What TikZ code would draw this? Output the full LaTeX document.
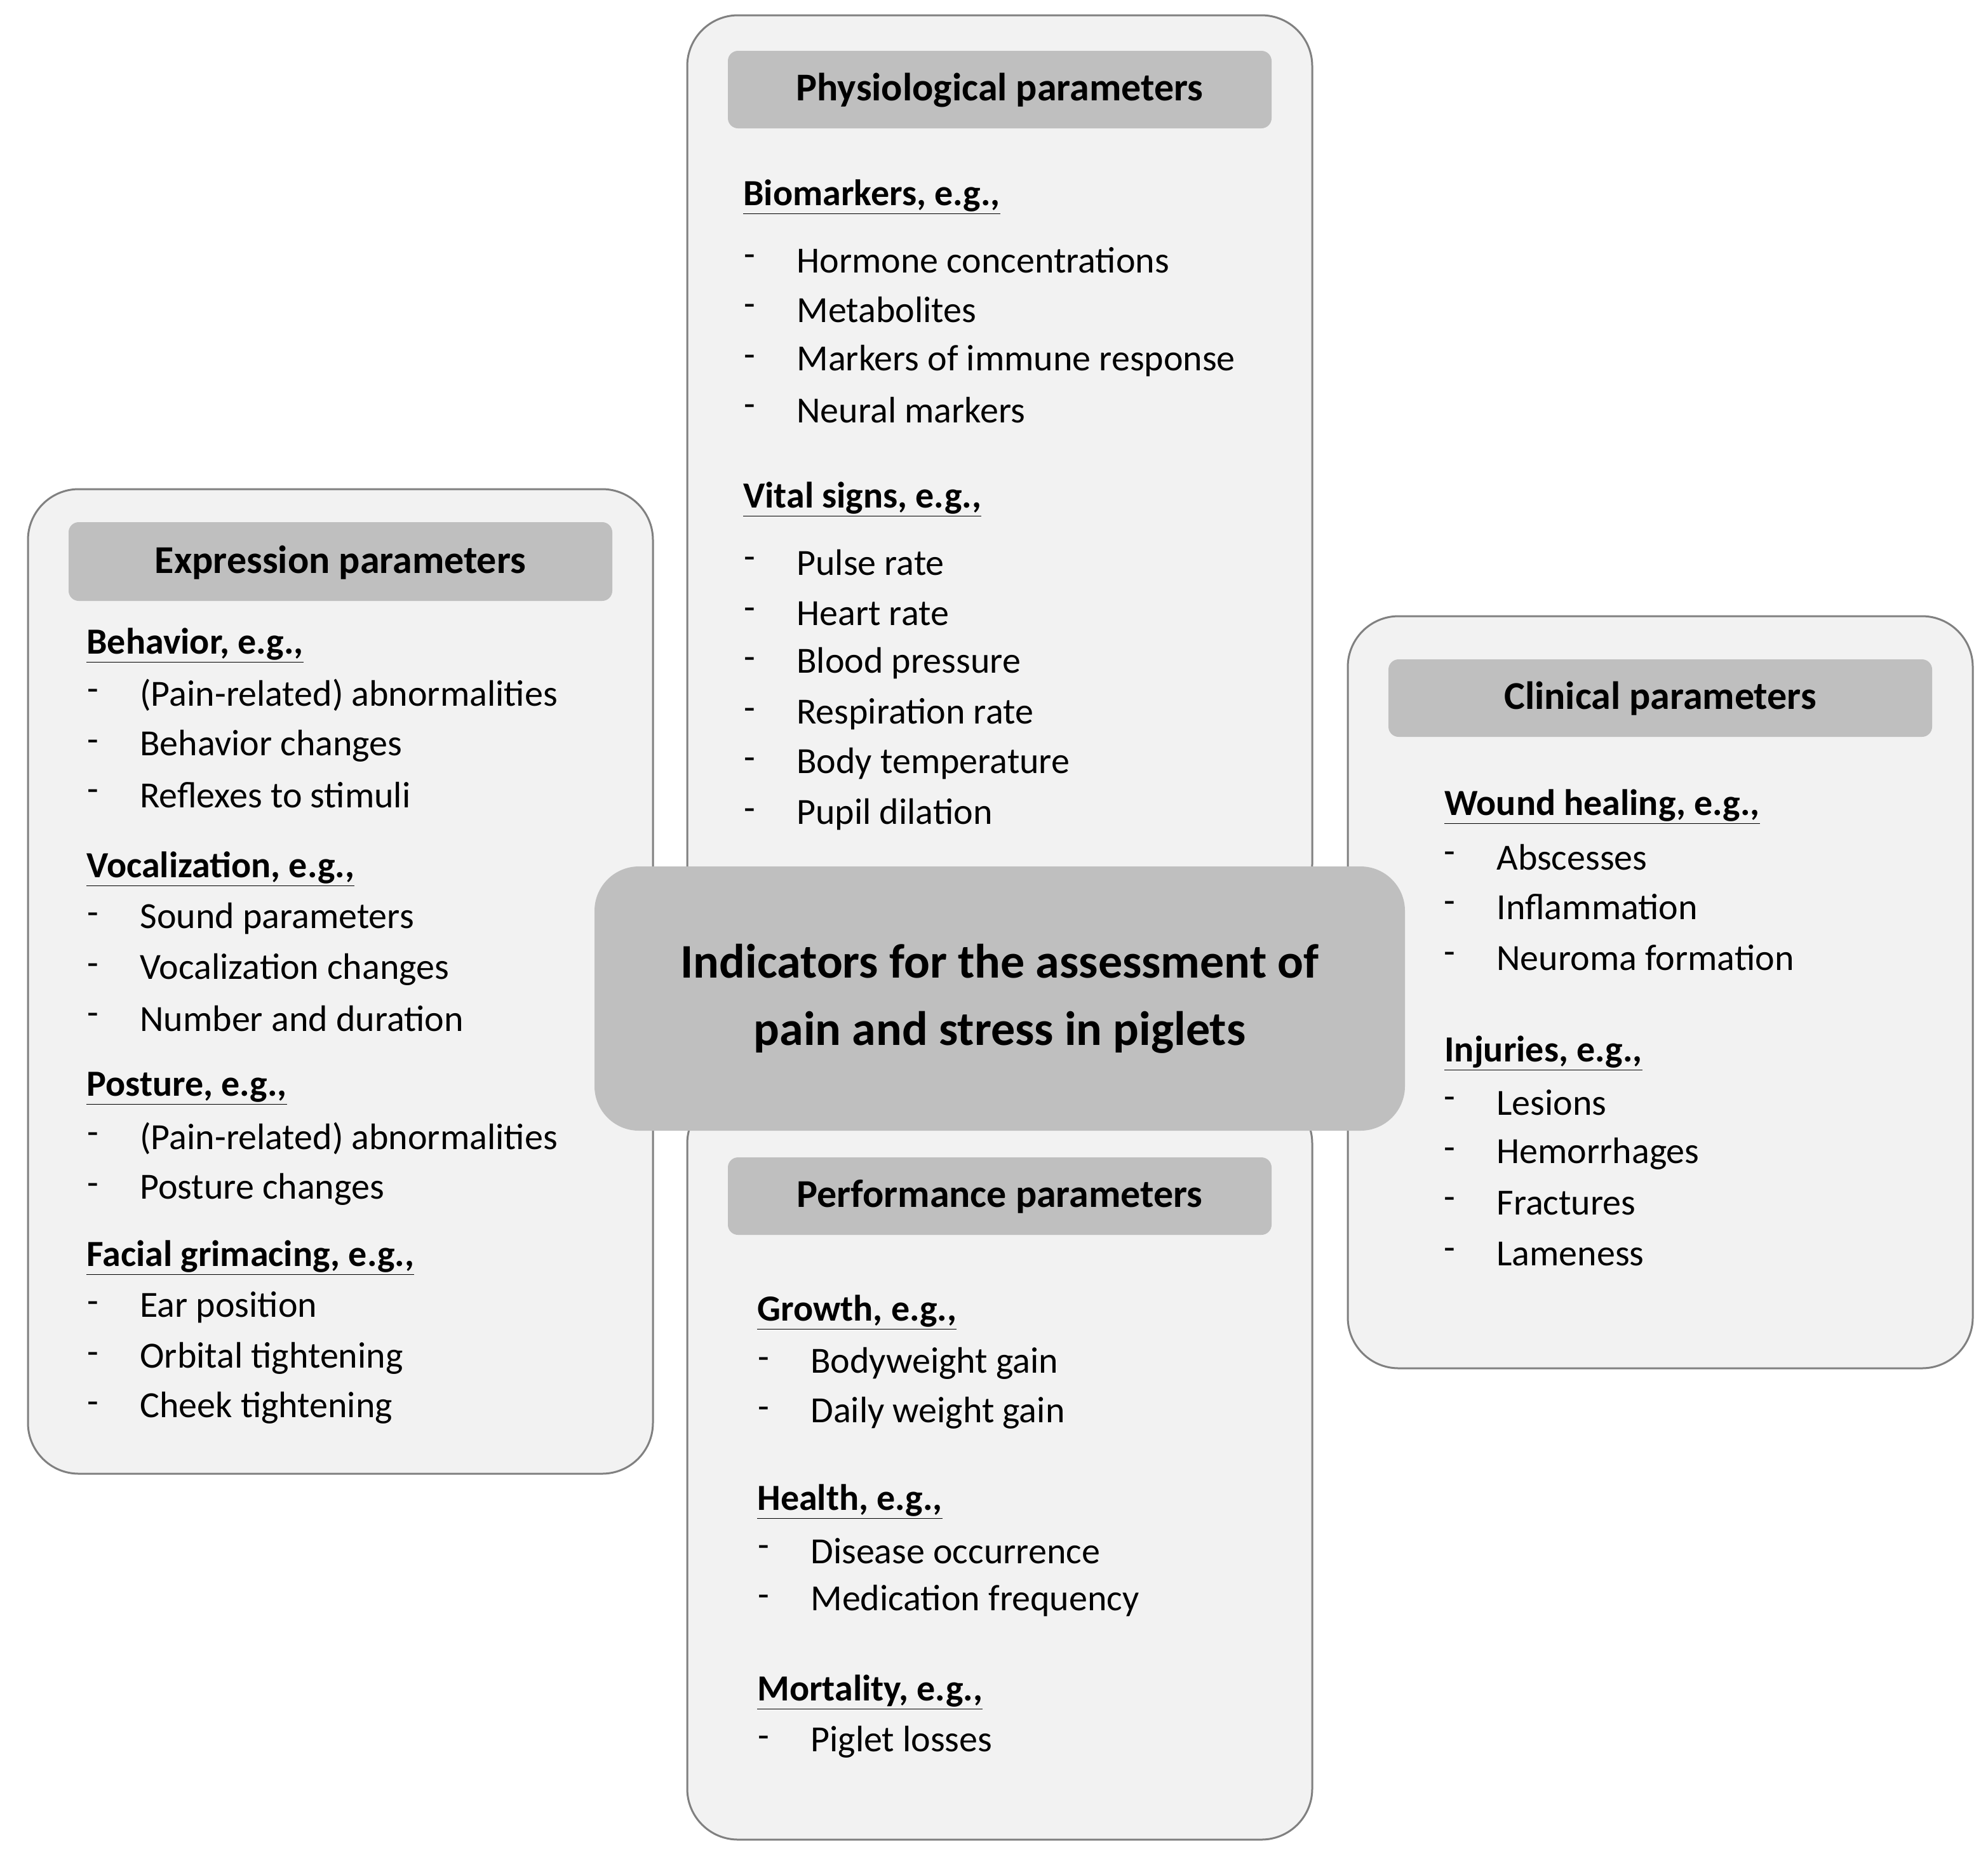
\documentclass[tikz,border=0pt]{standalone}
\usepackage{fontspec}
\setmainfont{Carlito}
\begin{document}
\begin{tikzpicture}[x=1pt,y=-1pt,
  outer/.style={draw=black!50,line width=1.5pt,fill=black!5,rounded corners=40pt},
  bar/.style={fill=black!25,rounded corners=8pt},
  ttl/.style={font=\fontsize{31}{36}\selectfont\bfseries},
  hd/.style={anchor=west,inner sep=0,font=\fontsize{29}{34}\selectfont\bfseries},
  it/.style={anchor=west,inner sep=0,font=\fontsize{29}{34}\selectfont},
  ds/.style={anchor=center,inner sep=0,font=\fontsize{29}{34}\selectfont}]
\useasboundingbox (0,0) rectangle (1565,1456.5);
% boxes
\draw[outer] (541,12) rectangle (1033,720);
\draw[outer] (22,385) rectangle (514,1160);
\draw[outer] (1061,485) rectangle (1553,1077);
\draw[outer] (541,860) rectangle (1033,1448);
% bars
\fill[bar] (573,40) rectangle (1001,101); \node[ttl] (tp) at (787,71) {Physiological parameters};
\fill[bar] (54,411) rectangle (482,473); \node[ttl] (te) at (268,443) {Expression parameters};
\fill[bar] (1093,519) rectangle (1521,580); \node[ttl] (tc) at (1307,550) {Clinical parameters};
\fill[bar] (573,911) rectangle (1001,972); \node[ttl] (tf) at (787,942) {Performance parameters};
% center
\node[fill=black!25,rounded corners=35pt,minimum width=638pt,minimum height=208pt,align=center,
  font=\fontsize{38}{53}\selectfont\bfseries] (c) at (787,786) {Indicators for the assessment of\\pain and stress in piglets};
% physiological
\node[hd] (h1) at (585,155) {\underline{Biomarkers, e.g.,}};
\foreach \t/\y in {Hormone concentrations/205,Metabolites/244,Markers of immune response/284,Neural markers/323}
 {\node[ds] at (590,\y) {-}; \node[it] at (627,\y) {\t};}
\node[hd] (h2) at (585,393) {\underline{Vital signs, e.g.,}};
\foreach \t/\y in {Pulse rate/443,Heart rate/483,Blood pressure/522,Respiration rate/562,Body temperature/601,Pupil dilation/641}
 {\node[ds] at (590,\y) {-}; \node[it] at (627,\y) {\t};}
% expression
\node[hd] (h3) at (68,508) {\underline{Behavior, e.g.,}};
\foreach \t/\y in {(Pain-related) abnormalities/547,Behavior changes/587,Reflexes to stimuli/626}
 {\node[ds] at (73,\y) {-}; \node[it] at (110,\y) {\t};}
\node[hd] (h4) at (68,684) {\underline{Vocalization, e.g.,}};
\foreach \t/\y in {Sound parameters/723,Vocalization changes/763,Number and duration/802}
 {\node[ds] at (73,\y) {-}; \node[it] at (110,\y) {\t};}
\node[hd] (h5) at (68,857) {\underline{Posture, e.g.,}};
\foreach \t/\y in {(Pain-related) abnormalities/896,Posture changes/936}
 {\node[ds] at (73,\y) {-}; \node[it] at (110,\y) {\t};}
\node[hd] (h6) at (68,990) {\underline{Facial grimacing, e.g.,}};
\foreach \t/\y in {Ear position/1029,Orbital tightening/1069,Cheek tightening/1108}
 {\node[ds] at (73,\y) {-}; \node[it] at (110,\y) {\t};}
% clinical
\node[hd] (h7) at (1137,635) {\underline{Wound healing, e.g.,}};
\foreach \t/\y in {Abscesses/675,Inflammation/714,Neuroma formation/754}
 {\node[ds] at (1141,\y) {-}; \node[it] at (1178,\y) {\t};}
\node[hd] (h8) at (1137,829) {\underline{Injuries, e.g.,}};
\foreach \t/\y in {Lesions/868,Hemorrhages/908,Fractures/947,Lameness/987}
 {\node[ds] at (1141,\y) {-}; \node[it] at (1178,\y) {\t};}
% performance
\node[hd] (h9) at (596,1033) {\underline{Growth, e.g.,}};
\foreach \t/\y in {Bodyweight gain/1073,Daily weight gain/1112}
 {\node[ds] at (601,\y) {-}; \node[it] at (638,\y) {\t};}
\node[hd] (h10) at (596,1182) {\underline{Health, e.g.,}};
\foreach \t/\y in {Disease occurrence/1221,Medication frequency/1260}
 {\node[ds] at (601,\y) {-}; \node[it] at (638,\y) {\t};}
\node[hd] (h11) at (596,1332) {\underline{Mortality, e.g.,}};
\node[ds] at (601,1371) {-}; \node[it] at (638,1371) {Piglet losses};
\end{tikzpicture}
\end{document}
